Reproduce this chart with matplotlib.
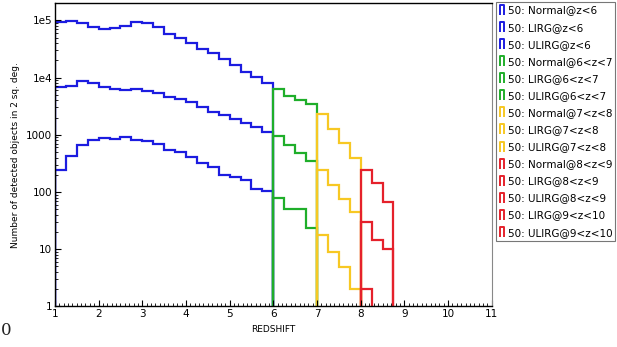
import numpy as np
import matplotlib
matplotlib.use("Agg")
import matplotlib.pyplot as plt
from matplotlib.lines import Line2D
from matplotlib.path import Path
from matplotlib.ticker import FixedLocator, FixedFormatter, LogLocator, MultipleLocator, NullFormatter

# counts per redshift bin (bin width 0.25)
normal_z6 = [93000, 98000, 90000, 78000, 70000, 73000, 81000, 93000, 90000, 75000,
             58000, 49000, 40000, 31500, 27000, 21000, 16300, 12700, 10200, 7950]
lirg_z6 = [6960, 7250, 8750, 7980, 6870, 6340, 6020, 6270, 5930, 5470,
           4660, 4250, 3720, 3040, 2550, 2230, 1870, 1630, 1390, 1140]
ulirg_z6 = [243, 433, 657, 815, 883, 838, 908, 815, 773, 685,
            545, 496, 416, 319, 271, 199, 186, 163, 113, 104]

normal_z7 = [6340, 4850, 4080, 3430]
lirg_z7 = [946, 658, 477, 350]
ulirg_z7 = [78, 50, 50, 23.6]

normal_z8 = [2290, 1250, 713, 399]
lirg_z8 = [243, 133, 75, 44]
ulirg_z8 = [17.8, 9.1, 4.85, 2.02]

normal_z9 = [243, 142, 68]
lirg_z9 = [29.6, 14.5, 10.0]
ulirg_z9 = [2.0]

blue = "#1c1ce0"
green = "#1fae2a"
yellow = "#f7c823"
red = "#e5212b"

series = [
    (normal_z6, 1.0, blue), (lirg_z6, 1.0, blue), (ulirg_z6, 1.0, blue),
    (normal_z7, 6.0, green), (lirg_z7, 6.0, green), (ulirg_z7, 6.0, green),
    (normal_z8, 7.0, yellow), (lirg_z8, 7.0, yellow), (ulirg_z8, 7.0, yellow),
    (normal_z9, 8.0, red), (lirg_z9, 8.0, red), (ulirg_z9, 8.0, red),
]

labels = ["50: Normal@z<6", "50: LIRG@z<6", "50: ULIRG@z<6",
          "50: Normal@6<z<7", "50: LIRG@6<z<7", "50: ULIRG@6<z<7",
          "50: Normal@7<z<8", "50: LIRG@7<z<8", "50: ULIRG@7<z<8",
          "50: Normal@8<z<9", "50: LIRG@8<z<9", "50: ULIRG@8<z<9",
          "50: LIRG@9<z<10", "50: ULIRG@9<z<10"]
label_colors = [blue] * 3 + [green] * 3 + [yellow] * 3 + [red] * 5

fig = plt.figure(figsize=(6.17, 3.47), dpi=100)
ax = fig.add_axes([0.089, 0.117, 0.708, 0.874])

for vals, start, col in series:
    edges = start + 0.25 * np.arange(len(vals) + 1)
    ax.stairs(vals, edges, baseline=0.01, color=col, lw=1.6)

ax.set_yscale("log")
ax.set_xlim(1, 11)
ax.set_ylim(1, 2.0e5)

ax.xaxis.set_major_locator(MultipleLocator(1))
ax.xaxis.set_minor_locator(MultipleLocator(0.1))
ax.yaxis.set_major_locator(FixedLocator([1, 10, 100, 1000, 1e4, 1e5]))
ax.yaxis.set_major_formatter(FixedFormatter(["1", "10", "100", "1000", "1e4", "1e5"]))
ax.yaxis.set_minor_locator(LogLocator(base=10, subs=np.arange(2, 10)))
ax.yaxis.set_minor_formatter(NullFormatter())
ax.tick_params(which="both", direction="in", labelsize=7.5, pad=2)
ax.tick_params(which="major", length=4)
ax.tick_params(which="minor", length=2)
ax.spines["right"].set_color("#888888")
for s in ["left", "bottom", "top"]:
    ax.spines[s].set_linewidth(1.0)

ax.set_xlabel("REDSHIFT", fontsize=6.5, labelpad=4)
ax.set_ylabel("Number of detected objects in 2 sq. deg.", fontsize=6.5, labelpad=4)

# little open-bottom box, like a step-histogram icon
pi_marker = Path([(-0.4, -1.0), (-0.4, 1.0), (0.4, 1.0), (0.4, -1.0)],
                 [Path.MOVETO, Path.LINETO, Path.LINETO, Path.LINETO])
handles = [Line2D([], [], linestyle="none", marker=pi_marker, markersize=7.5,
                  markerfacecolor="none", markeredgecolor=c, markeredgewidth=1.4)
           for c in label_colors]
leg = fig.legend(handles, labels, loc="upper left", bbox_to_anchor=(0.804, 0.993),
                 fontsize=7.5, frameon=True, fancybox=False, edgecolor="#555555",
                 handlelength=0.5, handletextpad=0.3, labelspacing=0.68,
                 borderpad=0.3, borderaxespad=0.0)
leg.get_frame().set_linewidth(0.8)

fig.text(0.001, 0.035, "0", fontsize=12, family="DejaVu Serif", color="#222222")

fig.savefig("out.png", dpi=100)
